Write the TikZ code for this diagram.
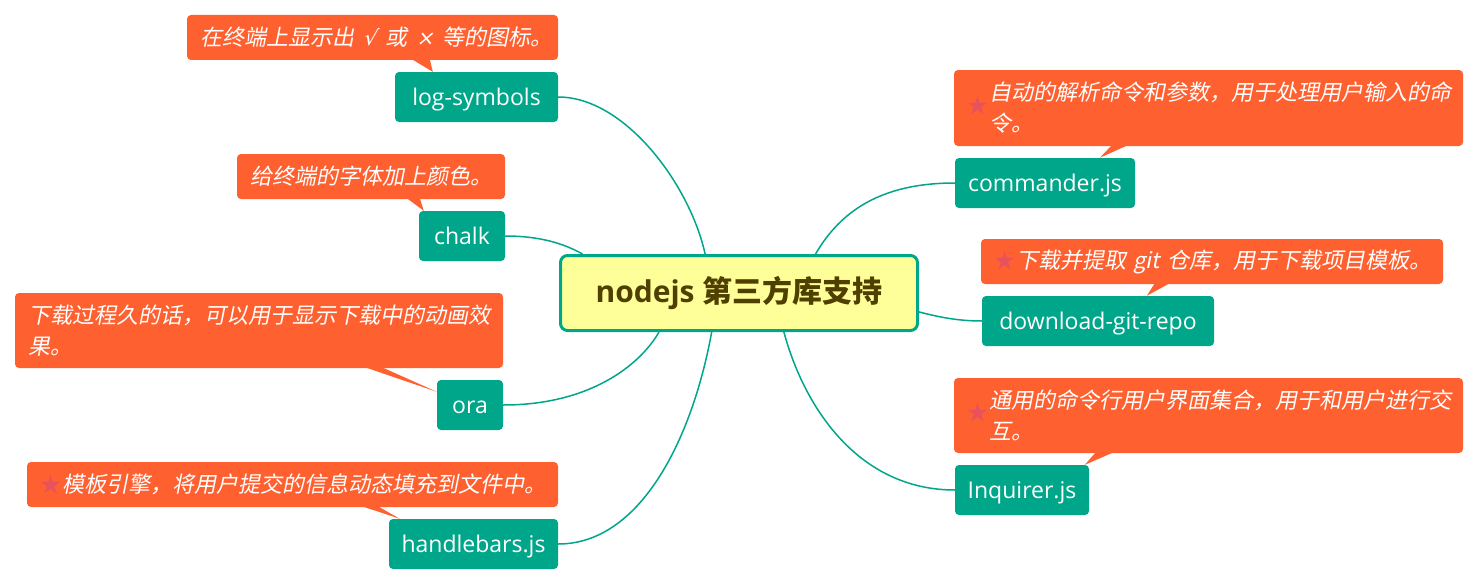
\documentclass[tikz,border=0pt]{standalone}
\usepackage{fontspec}
\usetikzlibrary{backgrounds}
\setmainfont{Open Sans}
\newfontfamily\cjkfont{Noto Sans CJK SC}
\newfontfamily\cjkslant[FakeSlant=0.2]{Noto Sans CJK SC}
\newfontfamily\symslant[FakeSlant=0.2]{DejaVu Sans}
\definecolor{branch}{RGB}{0,166,138}
\definecolor{notebg}{RGB}{255,96,48}
\definecolor{rootbg}{RGB}{255,255,153}
\definecolor{roottext}{RGB}{80,64,0}
\definecolor{starred}{RGB}{232,82,92}
\newcommand{\notestar}{{\color{starred}\cjkfont\fontsize{21}{21}\selectfont ★}\hspace{1pt}}
\newcommand{\notesym}[1]{\kern9pt{\symslant\fontsize{21}{21}\selectfont #1}\kern9pt}

\begin{document}
\begin{tikzpicture}[x=1pt,y=-1pt,
  link/.style={branch,line width=1.5pt},
  topic/.style={fill=branch,rounded corners=4pt,text=white,inner sep=0pt,
    minimum height=50pt,text height=21pt,text depth=5pt,font=\fontsize{23}{27}\selectfont},
  note/.style={fill=notebg,rounded corners=4pt,text=white,inner xsep=13pt,
    inner ysep=0pt,align=left,text width=#1,font=\cjkslant\fontsize{22}{31}\selectfont},
  root/.style={fill=rootbg,draw=branch,line width=3pt,rounded corners=7pt,
    minimum width=357pt,minimum height=75pt,text=roottext,
    font=\bfseries\fontsize{30}{34}\selectfont}]
  \useasboundingbox (0,0) rectangle (1479,586);
  % centre and branches
  \node[root] (root) at (739,293) {nodejs {\cjkfont\bfseries 第三方库支持}};
  \node[topic,minimum width=163pt] (log)   at (476.5,97)  {log-symbols};
  \node[topic,minimum width=86pt]  (chalk) at (462,236)   {chalk};
  \node[topic,minimum width=66pt]  (ora)   at (470,405)   {ora};
  \node[topic,minimum width=169pt] (hb)    at (473.5,544) {handlebars.js};
  \node[topic,minimum width=180pt] (cmd)   at (1045,183)  {commander.js};
  \node[topic,minimum width=232pt] (dl)    at (1098,321)  {download-git-repo};
  \node[topic,minimum width=134pt] (inq)   at (1022,490)  {Inquirer.js};
  \begin{scope}[on background layer]
    \fill[white] (0,0) rectangle (1479,586);
    \draw[link] (log.east)   .. controls (625,97)  and (690,185) .. (root.131);
    \draw[link] (chalk.east) .. controls (545,236) and (568,246) .. (root.166);
    \draw[link] (ora.east)   .. controls (590,405) and (640,365) .. (root.206);
    \draw[link] (hb.east)    .. controls (640,544) and (692,440) .. (root.235);
    \draw[link] (cmd.west)   .. controls (880,183) and (840,212) .. (root.27);
    \draw[link] (dl.west)    .. controls (955,321) and (935,316) .. (root.354);
    \draw[link] (inq.west)   .. controls (860,490) and (805,410) .. (root.319);
  \end{scope}
  % notes
  \node[note=345pt,minimum height=45pt] (nlog) at (372.5,37.5)
    {\mbox{在终端上显示出\notesym{√}或\notesym{×}等的图标。}};
  \node[note=242pt,minimum height=45pt] (nchalk) at (371,176.5)
    {给终端的字体加上颜色。};
  \node[note=462pt,minimum height=75pt] (nora) at (259,330.5)
    {下载过程久的话，可以用于显示下载中的动画效\\果。};
  \node[note=505pt,minimum height=45pt] (nhb) at (292.5,484.5)
    {\notestar 模板引擎，将用户提交的信息动态填充到文件中。};
  \node[note=483pt,minimum height=76pt] (ncmd) at (1208.5,108)
    {\notestar\parbox[c]{460pt}{自动的解析命令和参数，用于处理用户输入的命\\令。}};
  \node[note=436pt,minimum height=45pt] (ndl) at (1212,261.5)
    {\notestar 下载并提取~git~仓库，用于下载项目模板。};
  \node[note=483pt,minimum height=75pt] (ninq) at (1208.5,415.5)
    {\notestar\parbox[c]{460pt}{通用的命令行用户界面集合，用于和用户进行交\\互。}};
  \foreach \n/\t/\a/\b/\c in {nlog/log/225/243/{38,0},nchalk/chalk/170/183/{5,0},
      nora/ora/350/367/{0,12},nhb/hb/335/351/{11,0},ncmd/cmd/158/174/{145,0},
      ndl/dl/174/189/{165,0},ninq/inq/142/160/{130,0}}
    \fill[notebg] ([shift={(\a,-1)}]\n.south west) -- ([shift={(\b,-1)}]\n.south west)
      -- ([shift={(\c)}]\t.north west) -- cycle;
\end{tikzpicture}
\end{document}
